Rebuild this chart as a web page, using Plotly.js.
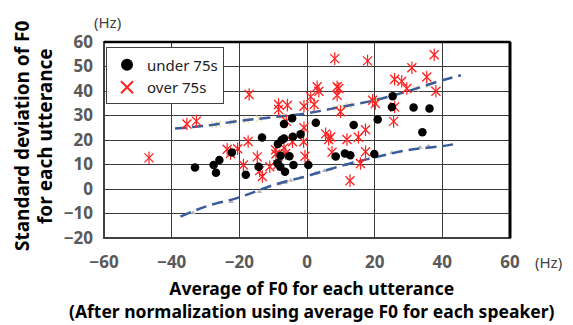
<!DOCTYPE html>
<html>
<head>
<meta charset="utf-8">
<script src="https://cdn.plot.ly/plotly-3.0.1.min.js"></script>
<style>html,body{margin:0;padding:0;background:#fff;}#chart{width:573px;height:325px;}</style>
</head>
<body>
<div id="chart"></div>
<script>
// under 75s (black circles)
const underX = [-33.1,-27.6,-25.9,-26.9,-22.2,-18.1,-14.3,-13.3,-8.6,-7.5,-6.8,-4.2,-1.9,-6.8,-4.4,2.6,13.8,20.9,25.3,25.1,31.5,36.2,34.1,-7.8,-5.2,-8.7,-7.9,-6.5,-4.0,0.4,8.5,11.2,12.8,19.9];
const underY = [8.8,9.8,11.8,6.6,14.9,5.8,9.1,21.0,18.4,20.0,20.6,21.3,22.3,26.5,28.9,27.0,26.1,28.4,37.9,33.5,33.3,32.9,23.2,13.6,13.4,10.5,9.1,7.0,9.8,9.8,13.3,14.5,13.8,14.3];
// over 75s (red crosses)
const overX = [-46.7,-35.5,-32.7,-17.1,-23.6,-22.6,-20.5,-17.4,-18.8,-14.7,-6.1,-0.9,-9.3,-9.2,-6.8,-4.3,-1.0,5.5,7.0,6.4,11.8,15.2,17.3,-8.6,-11.0,-14.0,-13.2,-0.6,7.4,17.3,15.8,12.7,25.6,17.9,37.6,31.0,25.9,28.0,35.4,29.5,38.1,19.4,20.2,25.9,8.2,3.0,3.5,8.9,9.4,8.9,1.1,2.1,-8.4,-8.4,-5.8,-0.9,9.9,-6.3];
const overY = [12.7,26.5,27.7,38.6,16.2,14.5,16.4,19.4,9.8,13.1,27.6,25.0,16.0,14.3,16.8,19.3,19.3,22.5,21.2,20.2,20.2,21.1,24.2,10.0,9.1,7.5,5.1,13.4,15.0,15.2,10.4,3.4,27.6,52.3,54.8,49.5,44.8,44.0,45.7,41.0,39.9,36.2,34.9,33.5,53.2,41.7,39.9,41.7,41.0,38.3,37.6,34.5,34.5,32.5,34.2,33.8,31.5,14.5];
// upper and lower dashed curves
const upperX = [-39,-30,-20,-10,0,10,20,30,40,45.5];
const upperY = [24.7,25.8,27.8,29.3,30.9,33.5,36.2,40.0,44.4,46.4];
const lowerX = [-37.4,-30,-20,-10,0,10,20,30,40,44.7];
const lowerY = [-11.3,-7.2,-3.4,1.6,5.3,9.4,12.9,15.9,17.5,18.6];
// faint markers along the curves
const upperMarkX = [-27.4,-26.2,-22.1,-17.9,-14.1,-7.4,8.5,10.3,12.4,20.3,25.6,32.1,35.9];
const upperMarkY = [26.3,26.5,27.3,28.1,28.7,29.7,33.1,33.6,34.2,36.4,38.3,41.0,42.6];
const lowerMarkX = [-33.7,-22.4,-14.1,-8.2,-6.5,-4.8,-1.9,2.6,5.2,7.0,11.4,13.5,25.1,33.4,35.9];
const lowerMarkY = [-9.8,-5.2,-1.1,2.0,2.6,3.5,4.6,6.4,7.4,8.1,9.9,10.7,14.8,16.9,17.4];
const xTicks = [-60,-40,-20,0,20,40,60];
const yTicks = [-20,-10,0,10,20,30,40,50,60];

const red = '#FF2020';
const traces = [
  {x: upperMarkX, y: upperMarkY, mode: 'markers', showlegend: false, hoverinfo: 'skip',
   marker: {symbol: 'x-thin-open', size: 6, color: '#EBD9A8', line: {color: '#EBD9A8', width: 1.2}}},
  {x: lowerMarkX, y: lowerMarkY, mode: 'markers', showlegend: false, hoverinfo: 'skip',
   marker: {symbol: 'triangle-up', size: 5, color: '#B5B5B5'}},
  {x: upperX, y: upperY, mode: 'lines', showlegend: false, hoverinfo: 'skip',
   line: {color: '#3A5C9A', width: 2.5, dash: '11px,6px', shape: 'spline'}},
  {x: lowerX, y: lowerY, mode: 'lines', showlegend: false, hoverinfo: 'skip',
   line: {color: '#3A5C9A', width: 2.5, dash: '11px,6px', shape: 'spline'}},
  {x: overX, y: overY, mode: 'markers', name: 'over 75s', showlegend: false,
   marker: {symbol: 'line-ns-open', size: 9, color: red, line: {color: red, width: 1.2}}},
  {x: overX, y: overY, mode: 'markers', name: 'over 75s', showlegend: false,
   marker: {symbol: 'x-thin-open', size: 9, color: red, line: {color: red, width: 1.3}}},
  {x: underX, y: underY, mode: 'markers', name: 'under 75s',
   marker: {symbol: 'circle', size: 8.5, color: '#000000'}},
  {x: [null], y: [null], mode: 'markers', name: 'over 75s',
   marker: {symbol: 'x-thin-open', size: 10, color: red, line: {color: red, width: 1.2}}}
];

const tickFont = {family: 'Noto Sans, sans-serif', size: 17, color: '#595959', weight: 'bold'};
const titleFont = {family: 'Noto Sans, sans-serif', size: 19, color: '#000000', weight: 'bold'};
const layout = {
  width: 573, height: 325,
  margin: {l: 104, r: 63, t: 42, b: 87},
  paper_bgcolor: '#ffffff', plot_bgcolor: '#ffffff',
  showlegend: true,
  legend: {x: 0.005, y: 0.972, xanchor: 'left', yanchor: 'top',
    bgcolor: '#ffffff', bordercolor: '#404040', borderwidth: 1,
    font: {family: 'Noto Sans, sans-serif', size: 15, color: '#222'},
    tracegroupgap: 0, itemsizing: 'constant', itemwidth: 30},
  xaxis: {range: [-60, 60], tickvals: xTicks, showgrid: true, gridcolor: '#3a3a3a', gridwidth: 1,
    zeroline: false, showline: false, ticks: '', tickfont: tickFont, ticklabelstandoff: 12, fixedrange: true},
  yaxis: {range: [-20, 60], tickvals: yTicks, showgrid: true, gridcolor: '#3a3a3a', gridwidth: 1,
    zeroline: false, showline: false, ticks: '', tickfont: tickFont, ticklabelstandoff: 10, fixedrange: true},
  shapes: [
    {type: 'rect', xref: 'paper', yref: 'paper', x0: 0, x1: 1, y0: 0, y1: 1,
     line: {color: '#404040', width: 2}},
    {type: 'line', xref: 'paper', yref: 'paper', x0: 0, x1: 1, y0: 1, y1: 1, line: {color: '#000', width: 2.5}},
    {type: 'line', xref: 'paper', yref: 'paper', x0: 1, x1: 1, y0: 0, y1: 1, line: {color: '#000', width: 3}}
  ],
  annotations: [
    {text: 'Average of F0 for each utterance<br>(After normalization using average F0 for each speaker)',
     xref: 'paper', yref: 'paper', x: 0.51, y: -0.315, align: 'center',
     xanchor: 'center', yanchor: 'middle', showarrow: false,
     font: {family: 'Noto Sans, sans-serif', size: 17.5, color: '#000000', weight: 'bold'}},
    {text: 'Standard deviation of F0', xref: 'paper', yref: 'paper', x: 0, y: 0.5,
     xanchor: 'center', yanchor: 'middle', showarrow: false, textangle: -90, font: titleFont, xshift: -82, yshift: 4},
    {text: 'for each utterance', xref: 'paper', yref: 'paper', x: 0, y: 0.5,
     xanchor: 'center', yanchor: 'middle', showarrow: false, textangle: -90, font: titleFont, xshift: -59, yshift: 4},
    {text: '(Hz)', xref: 'paper', yref: 'paper', x: 0, y: 1, xanchor: 'center', yanchor: 'middle',
     showarrow: false, font: {family: 'Noto Sans, sans-serif', size: 15, color: '#404040'}, xshift: 3, yshift: 20},
    {text: '(Hz)', xref: 'paper', yref: 'paper', x: 1, y: 0, xanchor: 'center', yanchor: 'middle',
     showarrow: false, font: {family: 'Noto Sans, sans-serif', size: 15, color: '#404040'}, xshift: 38, yshift: -24}
  ]
};
Plotly.newPlot('chart', traces, layout, {displayModeBar: false, staticPlot: true});
</script>
</body>
</html>
